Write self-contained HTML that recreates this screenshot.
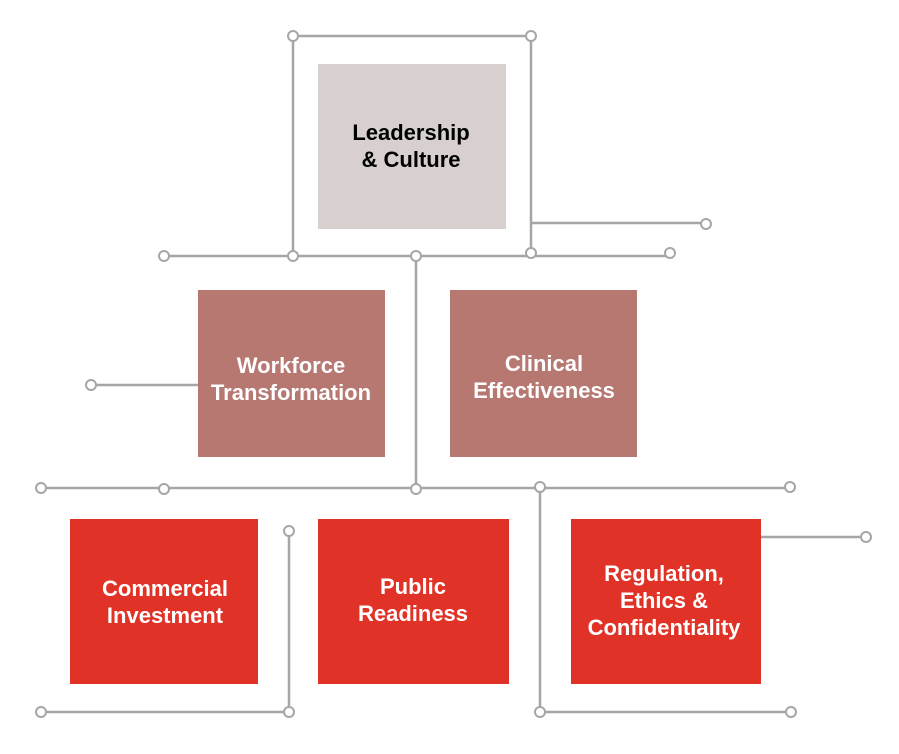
<!DOCTYPE html>
<html><head><meta charset="utf-8"><style>
html,body{margin:0;padding:0;background:#fff;width:899px;height:754px;overflow:hidden}
svg{display:block}
text{font-family:"Liberation Sans",Arial,sans-serif;font-weight:bold;font-size:22px;text-anchor:middle}
</style></head><body>
<svg width="899" height="754" viewBox="0 0 899 754">
<g stroke="#a6a6a6" stroke-width="2.5" fill="none">
<path d="M293 36H531V253M293 36V256M531 223H706M164 256H416H670M416 256V489M91 385H198M41 488H790M540 488V712M540 712H791M289 531V712M41 712H289M761 537H866"/>
</g>
<rect x="318" y="64" width="188" height="165" fill="#d7d0cf"/>
<rect x="198" y="290" width="187" height="167" fill="#b87872"/>
<rect x="450" y="290" width="187" height="167" fill="#b87872"/>
<rect x="70" y="519" width="188" height="165" fill="#e03226"/>
<rect x="318" y="519" width="191" height="165" fill="#e03226"/>
<rect x="571" y="519" width="190" height="165" fill="#e03226"/>
<g fill="#fff" stroke="#a6a6a6" stroke-width="2">
<circle cx="293" cy="36" r="5"/><circle cx="531" cy="36" r="5"/>
<circle cx="706" cy="224" r="5"/>
<circle cx="164" cy="256" r="5"/><circle cx="293" cy="256" r="5"/><circle cx="416" cy="256" r="5"/><circle cx="531" cy="253" r="5"/><circle cx="670" cy="253" r="5"/>
<circle cx="91" cy="385" r="5"/>
<circle cx="41" cy="488" r="5"/><circle cx="164" cy="489" r="5"/><circle cx="416" cy="489" r="5"/><circle cx="540" cy="487" r="5"/><circle cx="790" cy="487" r="5"/>
<circle cx="289" cy="531" r="5"/><circle cx="866" cy="537" r="5"/>
<circle cx="41" cy="712" r="5"/><circle cx="289" cy="712" r="5"/><circle cx="540" cy="712" r="5"/><circle cx="791" cy="712" r="5"/>
</g>
<text x="411" y="140" fill="#000">Leadership</text>
<text x="411" y="167" fill="#000">&amp; Culture</text>
<g fill="#fff">
<text x="291" y="373">Workforce</text>
<text x="291" y="400">Transformation</text>
<text x="544" y="371">Clinical</text>
<text x="544" y="398">Effectiveness</text>
<text x="165" y="596">Commercial</text>
<text x="165" y="623">Investment</text>
<text x="413" y="594">Public</text>
<text x="413" y="621">Readiness</text>
<text x="664" y="581">Regulation,</text>
<text x="664" y="608">Ethics &amp;</text>
<text x="664" y="635">Confidentiality</text>
</g>
</svg>
</body></html>
